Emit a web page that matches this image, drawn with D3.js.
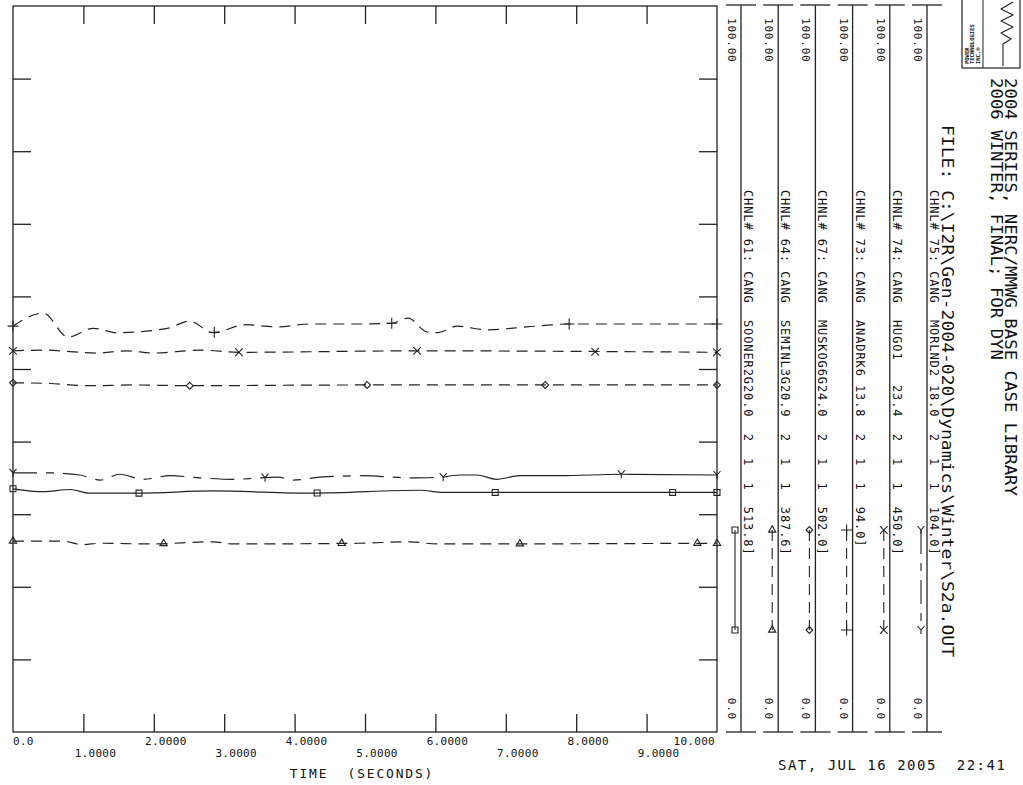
<!DOCTYPE html>
<html lang="en">
<head>
<meta charset="utf-8">
<title>PSS/E channel plot, CANG</title>
<script src="https://cdn.jsdelivr.net/npm/d3@7"></script>
<style>
  body { margin: 0; background: #fff; }
  text { font-family: "DejaVu Sans Mono", "Liberation Mono", monospace; fill: #111; white-space: pre; }
</style>
</head>
<body>
<div class="plot"></div>
<script>
// ---- data (time in seconds, angle in degrees) ----
var ch61Time = [0, 0.43, 0.81, 1.09, 1.79, 2.84, 4.26, 5.78, 6.11, 7.77, 10];
var ch61Ang  = [33.5, 33.1, 33.4, 32.9, 32.9, 33.2, 32.9, 33.3, 33.0, 33.0, 33.0];

var ch64Time = [0, 0.71, 0.98, 1.24, 1.95, 2.84, 3.12, 4.9, 5.64, 6.02, 10];
var ch64Ang  = [26.3, 26.3, 25.8, 26.0, 25.9, 26.2, 25.9, 26.0, 26.2, 25.9, 26.0];

var ch67Time = [0, 0.53, 1.09, 1.7, 2.5, 4.9, 10];
var ch67Ang  = [48.1, 48.0, 47.7, 47.8, 47.7, 47.8, 47.8];

var ch73Time = [0, 0.43, 0.78, 1.14, 1.48, 2.19, 2.51, 2.84, 3.30, 3.75, 4.22, 4.93, 5.38, 5.61, 5.88, 6.02, 6.31, 6.73, 7.30, 7.90, 10];
var ch73Ang  = [55.9, 57.7, 54.4, 55.6, 55.0, 55.6, 56.6, 55.0, 56.1, 55.8, 56.2, 56.2, 56.3, 57.0, 55.1, 55.0, 55.9, 55.4, 55.8, 56.2, 56.2];

var ch74Time = [0, 0.43, 1.19, 1.62, 1.99, 2.66, 3.21, 5.74, 10];
var ch74Ang  = [52.5, 52.6, 52.2, 52.5, 52.2, 52.6, 52.3, 52.5, 52.3];

var ch75Time = [0, 0.5, 0.95, 1.24, 1.52, 1.85, 2.23, 2.66, 3.12, 3.51, 3.76, 3.98, 4.36, 4.97, 5.40, 5.64, 6.11, 6.35, 6.59, 6.87, 7.2, 7.77, 8.64, 10];
var ch75Ang  = [35.7, 35.7, 35.4, 34.7, 35.5, 34.8, 35.3, 35.0, 34.8, 35.0, 35.1, 34.7, 35.1, 35.3, 35.1, 35.0, 35.1, 35.4, 35.4, 34.8, 35.3, 35.3, 35.5, 35.4];

// where the plotter dropped its symbols (seconds)
var ch61Marks = [0, 1.79, 4.32, 6.85, 9.37, 10];
var ch64Marks = [0, 2.14, 4.67, 7.20, 9.72, 10];
var ch67Marks = [0, 2.51, 5.03, 7.56, 10];
var ch73Marks = [0, 2.86, 5.38, 7.90, 10];
var ch74Marks = [0, 3.21, 5.74, 8.27, 10];
var ch75Marks = [0, 3.58, 6.11, 8.64, 10];

var channelLabels = [
  "CHNL# 61: CANG  SOONER2G20.0  2  1  1  513.8]",
  "CHNL# 64: CANG  SEMINL3G20.9  2  1  1  387.6]",
  "CHNL# 67: CANG  MUSKOG6G24.0  2  1  1  502.0]",
  "CHNL# 73: CANG  ANADRK6 13.8  2  1  1  94.0]",
  "CHNL# 74: CANG  HUGO1   23.4  2  1  1  450.0]",
  "CHNL# 75: CANG  MORLND2 18.0  2  1  1  104.0]"
];
var channelMax = "100.00";
var channelMin = "0.0";

var xTicks = [0, 1, 2, 3, 4, 5, 6, 7, 8, 9, 10];
var xTickLabels = ["0.0", "1.0000", "2.0000", "3.0000", "4.0000", "5.0000", "6.0000", "7.0000", "8.0000", "9.0000", "10.000"];
var yTicks = [10, 20, 30, 40, 50, 60, 70, 80, 90];

var title1 = "2004 SERIES, NERC/MMWG BASE CASE LIBRARY";
var title2 = "2006 WINTER, FINAL; FOR DYN";
var fileLine = "FILE: C:\\I2R\\Gen-2004-020\\Dynamics\\Winter\\S2a.OUT";
var dateLine = "SAT, JUL 16 2005  22:41";
var logoLines = ["POWER", "TECHNOLOGIES", "INC.\u00ae"];

// ---- layout ----
var W = 1023, H = 785;
var pLeft = 13, pRight = 717, pTop = 6, pBottom = 732;
var ink = "#222";

var svg = d3.select("div.plot").append("svg")
  .attr("width", W).attr("height", H);

var x = d3.scaleLinear().domain([0, 10]).range([pLeft, pRight]);
var y = d3.scaleLinear().domain([0, 100]).range([pBottom, pTop]);

// frame
svg.append("rect")
  .attr("x", pLeft).attr("y", pTop)
  .attr("width", pRight - pLeft).attr("height", pBottom - pTop)
  .attr("fill", "none").attr("stroke", ink).attr("stroke-width", 1.3);

// inward ticks on all four sides
function ticks(g) {
  g.selectAll("text").remove();
  g.select(".domain").remove();
  g.selectAll("line").attr("stroke", ink).attr("stroke-width", 1.3);
}
svg.append("g").attr("transform", "translate(0," + pBottom + ")")
  .call(d3.axisBottom(x).tickValues(xTicks.slice(1, -1)).tickSize(-18).tickSizeOuter(0)).call(ticks);
svg.append("g").attr("transform", "translate(0," + pTop + ")")
  .call(d3.axisTop(x).tickValues(xTicks.slice(1, -1)).tickSize(-18).tickSizeOuter(0)).call(ticks);
svg.append("g").attr("transform", "translate(" + pLeft + ",0)")
  .call(d3.axisLeft(y).tickValues(yTicks).tickSize(-18).tickSizeOuter(0)).call(ticks);
svg.append("g").attr("transform", "translate(" + pRight + ",0)")
  .call(d3.axisRight(y).tickValues(yTicks).tickSize(-18).tickSizeOuter(0)).call(ticks);

// time labels, staggered in two rows
svg.selectAll("text.xlab")
  .data(xTicks)
  .enter()
  .append("text")
  .attr("class", "xlab")
  .attr("x", function(d) { return d == 0 ? x(d) : (d == 10 ? x(d) - 2 : x(d) + 12); })
  .attr("y", function(d, i) { return i % 2 == 0 ? 745 : 757; })
  .attr("text-anchor", function(d) { return d == 0 ? "start" : (d == 10 ? "end" : "middle"); })
  .attr("font-size", "11px")
  .attr("letter-spacing", "0.3px")
  .text(function(d, i) { return xTickLabels[i]; });

svg.append("text")
  .attr("x", 362).attr("y", 778)
  .attr("text-anchor", "middle")
  .attr("font-size", "13px")
  .attr("letter-spacing", "1.8px")
  .text("TIME  (SECONDS)");

// ---- channel styles ----
var dash = "11,7";
var channels = [
  { t: ch61Time, v: ch61Ang, marks: ch61Marks, dash: null,   sym: "square" },
  { t: ch64Time, v: ch64Ang, marks: ch64Marks, dash: dash,   sym: "triangle" },
  { t: ch67Time, v: ch67Ang, marks: ch67Marks, dash: dash,   sym: "diamond" },
  { t: ch73Time, v: ch73Ang, marks: ch73Marks, dash: dash,   sym: "plus" },
  { t: ch74Time, v: ch74Ang, marks: ch74Marks, dash: dash,   sym: "times" },
  { t: ch75Time, v: ch75Ang, marks: ch75Marks, dash: "24,9,8,9", sym: "wye", solidFrom: 6.11 }
];

var symbolPath = {
  square:   d3.symbol().type(d3.symbolSquare2).size(45)(),
  triangle: d3.symbol().type(d3.symbolTriangle2).size(38)(),
  diamond:  d3.symbol().type(d3.symbolDiamond2).size(30)(),
  plus:     d3.symbol().type(d3.symbolPlus).size(40)(),
  times:    d3.symbol().type(d3.symbolTimes).size(40)(),
  wye:      "M-3.5,-4L0,0L3.5,-4M0,0L0,4"
};

var line = d3.line()
  .x(function(d) { return x(d[0]); })
  .y(function(d) { return y(d[1]); })
  .curve(d3.curveMonotoneX);

channels.forEach(function(c) {
  var pts = c.t.map(function(t, i) { return [t, c.v[i]]; });
  var dashed = c.solidFrom ? pts.filter(function(p) { return p[0] <= c.solidFrom; }) : pts;
  svg.append("path")
    .attr("d", line(dashed))
    .attr("fill", "none").attr("stroke", ink).attr("stroke-width", 1.2)
    .attr("stroke-dasharray", c.dash);
  if (c.solidFrom) {
    svg.append("path")
      .attr("d", line(pts.filter(function(p) { return p[0] >= c.solidFrom; })))
      .attr("fill", "none").attr("stroke", ink).attr("stroke-width", 1.2);
  }
  // symbols sit on the trace
  var along = d3.scaleLinear().domain(c.t).range(c.v);
  svg.selectAll(null)
    .data(c.marks)
    .enter()
    .append("path")
    .attr("transform", function(d) { return "translate(" + x(d) + "," + y(along(d)) + ")"; })
    .attr("d", symbolPath[c.sym])
    .attr("fill", "none").attr("stroke", ink).attr("stroke-width", 1.1);
});

// ---- channel legend columns on the right ----
var colX = d3.scaleLinear().domain([0, 5]).range([741, 927]);
var legTop = 530, legBottom = 630;

function vtext(px, py, str, size, anchor, spacing, len) {
  var t = svg.append("text")
    .attr("transform", "translate(" + px + "," + py + ") rotate(90)")
    .attr("text-anchor", anchor || "start")
    .attr("font-size", size + "px")
    .attr("letter-spacing", (spacing || 0) + "px")
    .text(str);
  if (len) t.attr("textLength", len).attr("lengthAdjust", "spacingAndGlyphs");
  return t;
}

channels.forEach(function(c, i) {
  var cx = colX(i);
  svg.append("line").attr("x1", cx).attr("x2", cx).attr("y1", 5).attr("y2", pBottom)
    .attr("stroke", ink).attr("stroke-width", 1.3);
  svg.append("line").attr("x1", cx - 15).attr("x2", cx + 15).attr("y1", 5).attr("y2", 5)
    .attr("stroke", ink).attr("stroke-width", 1.3);
  svg.append("line").attr("x1", cx - 15).attr("x2", cx + 15).attr("y1", pBottom).attr("y2", pBottom)
    .attr("stroke", ink).attr("stroke-width", 1.3);
  vtext(cx - 13, 18, channelMax, 11, "start", 0.8);
  vtext(cx - 13, 720, channelMin, 11, "end", 0.8);
  vtext(cx + 3, 190, channelLabels[i], 12, "start", 0.9);

  // line sample with its two symbols
  var sx = cx - 6;
  svg.append("line").attr("x1", sx).attr("x2", sx).attr("y1", legTop).attr("y2", legBottom)
    .attr("stroke", ink).attr("stroke-width", 1.1)
    .attr("stroke-dasharray", c.dash);
  [legTop, legBottom].forEach(function(sy) {
    svg.append("path")
      .attr("transform", "translate(" + sx + "," + sy + ")")
      .attr("d", symbolPath[c.sym])
      .attr("fill", "none").attr("stroke", ink).attr("stroke-width", 1.1);
  });
});

// ---- titles ----
vtext(942, 125, fileLine, 15, "start", 0, 532);
vtext(991, 78, title2, 15, "start", 0, 282);
vtext(1005, 78, title1, 15, "start", 0, 418);

svg.append("text")
  .attr("x", 778).attr("y", 770)
  .attr("font-size", "14px")
  .attr("letter-spacing", "1.5px")
  .text(dateLine);

// ---- logo box ----
var logo = svg.append("g");
logo.append("rect").attr("x", 962).attr("y", -1).attr("width", 58).attr("height", 69)
  .attr("fill", "none").attr("stroke", ink).attr("stroke-width", 1.2);
logo.append("line").attr("x1", 983).attr("x2", 983).attr("y1", 0).attr("y2", 68)
  .attr("stroke", ink).attr("stroke-width", 1);
// company name reads bottom-to-top, first line leftmost
logoLines.forEach(function(s, i) {
  logo.append("text")
    .attr("transform", "translate(" + (969 + i * 5.3) + ",64) rotate(-90)")
    .attr("font-size", "5.5px")
    .attr("font-family", "'DejaVu Sans', sans-serif")
    .attr("font-weight", "bold")
    .text(s);
});
logo.append("path")
  .attr("d", "M1013,2 L1001,9 L1013,15 L1001,21 L1013,27 L1001,33 L1011,39 L1003,44 L1003,66")
  .attr("fill", "none").attr("stroke", ink).attr("stroke-width", 1.1)
  .attr("stroke-linejoin", "round");
</script>
</body>
</html>
